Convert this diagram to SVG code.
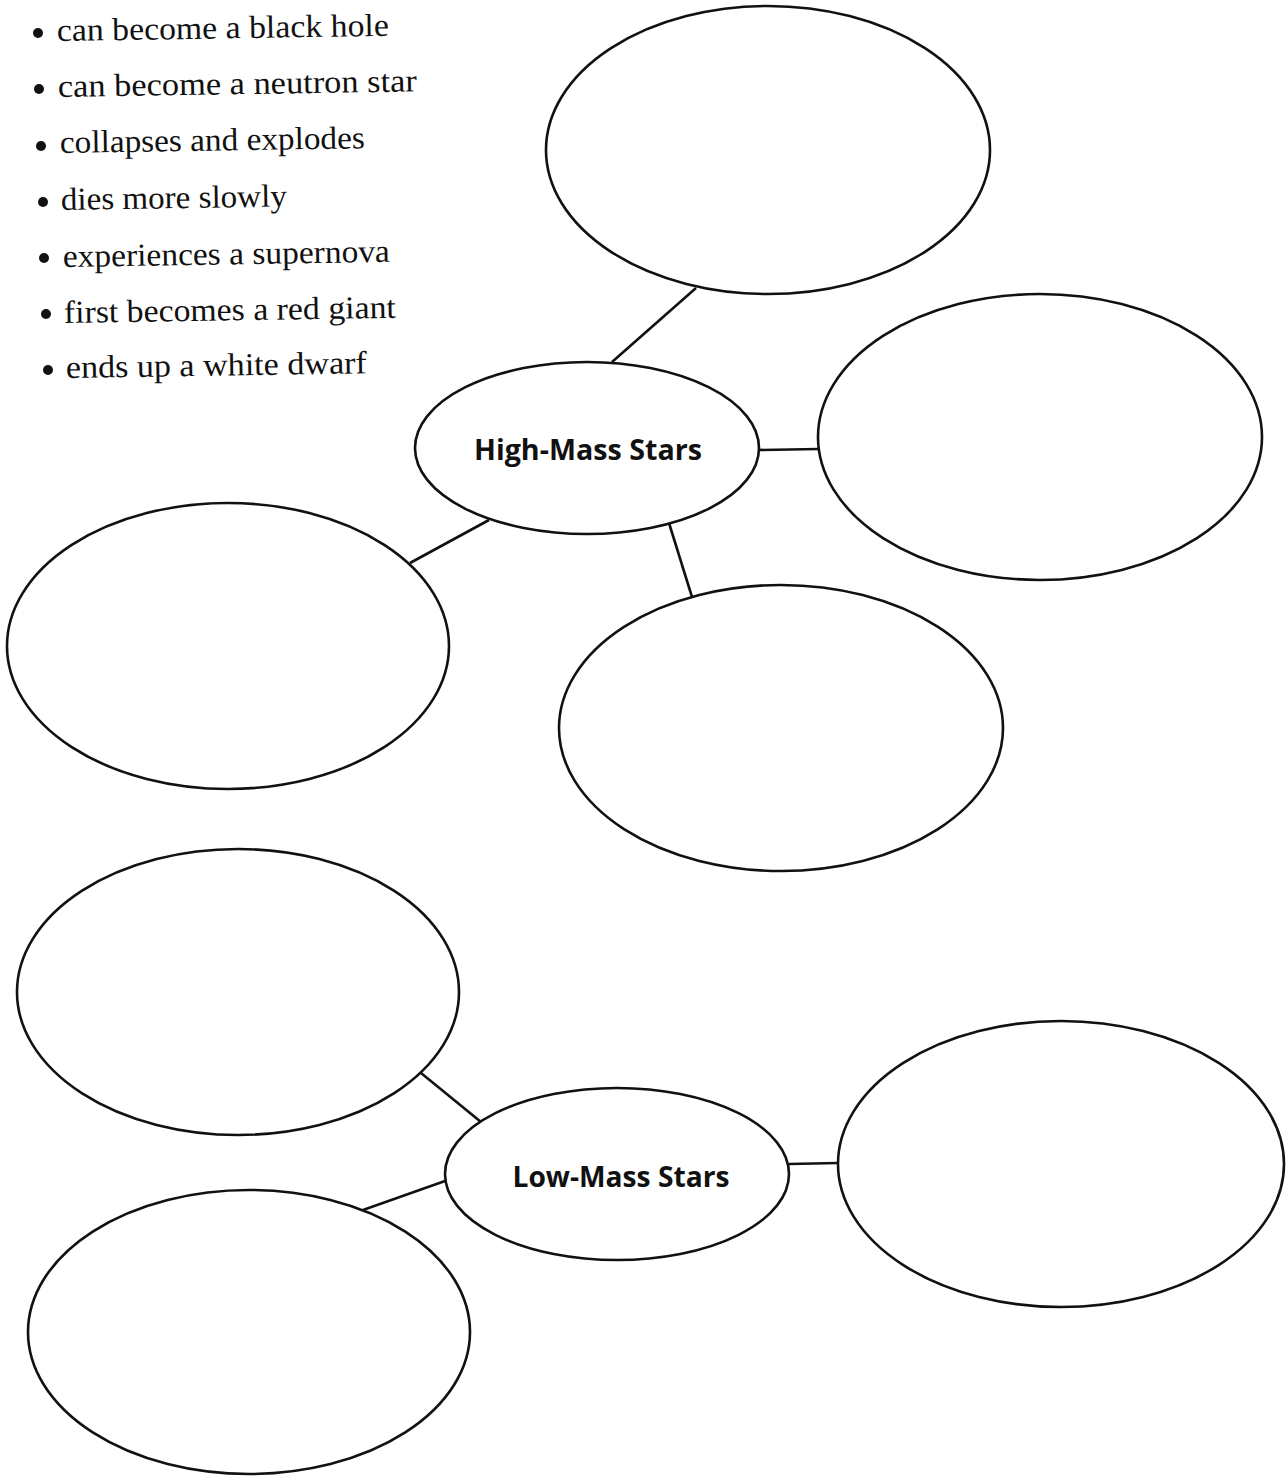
<svg xmlns="http://www.w3.org/2000/svg" width="1286" height="1476" viewBox="0 0 1286 1476">
<style>
.bub{fill:#fff;stroke:#111;stroke-width:2.6}
.con line{stroke:#111;stroke-width:2.6}
.item{font-family:"Liberation Serif","DejaVu Serif",serif;font-size:32px;fill:#111}
.lbl{font-family:"Open Sans","Noto Sans","Liberation Sans",sans-serif;font-weight:bold;font-size:29px;fill:#111;text-anchor:middle}
.dot{fill:#111}
</style>
<rect width="1286" height="1476" fill="#fff"/>
<g id="word-list">
<circle class="dot" cx="38" cy="33" r="5"/>
<text class="item" x="57" y="41" textLength="332" lengthAdjust="spacingAndGlyphs" transform="rotate(-0.9 57 41)">can become a black hole</text>
<circle class="dot" cx="39" cy="89" r="5"/>
<text class="item" x="58" y="97" textLength="359" lengthAdjust="spacingAndGlyphs" transform="rotate(-0.9 58 97)">can become a neutron star</text>
<circle class="dot" cx="41" cy="146" r="5"/>
<text class="item" x="60" y="153" textLength="305" lengthAdjust="spacingAndGlyphs" transform="rotate(-0.9 60 153)">collapses and explodes</text>
<circle class="dot" cx="43" cy="202" r="5"/>
<text class="item" x="61" y="210" textLength="226" lengthAdjust="spacingAndGlyphs" transform="rotate(-0.9 61 210)">dies more slowly</text>
<circle class="dot" cx="44" cy="258" r="5"/>
<text class="item" x="63" y="267" textLength="327" lengthAdjust="spacingAndGlyphs" transform="rotate(-0.9 63 267)">experiences a supernova</text>
<circle class="dot" cx="46" cy="314" r="5"/>
<text class="item" x="64" y="323" textLength="332" lengthAdjust="spacingAndGlyphs" transform="rotate(-0.9 64 323)">first becomes a red giant</text>
<circle class="dot" cx="48" cy="370" r="5"/>
<text class="item" x="66" y="378" textLength="301" lengthAdjust="spacingAndGlyphs" transform="rotate(-0.9 66 378)">ends up a white dwarf</text>
</g>
<g id="connectors" class="con">
<line x1="612" y1="362" x2="696" y2="288"/>
<line x1="759" y1="450" x2="818" y2="449"/>
<line x1="489" y1="520" x2="410" y2="563"/>
<line x1="669" y1="523" x2="692" y2="597"/>
<line x1="421" y1="1073" x2="481" y2="1122"/>
<line x1="789" y1="1164" x2="838" y2="1163"/>
<line x1="445" y1="1181" x2="363" y2="1210"/>
</g>
<g id="high-top"><ellipse class="bub" cx="768" cy="150" rx="222" ry="144"/></g>
<g id="high-right"><ellipse class="bub" cx="1040" cy="437" rx="222" ry="143"/></g>
<g id="high-left"><ellipse class="bub" cx="228" cy="646" rx="221" ry="143"/></g>
<g id="high-bottom"><ellipse class="bub" cx="781" cy="728" rx="222" ry="143"/></g>
<g id="high-mass">
<ellipse class="bub" cx="587" cy="448" rx="172" ry="86"/>
<text class="lbl" x="588" y="460" textLength="228" lengthAdjust="spacingAndGlyphs">High-Mass Stars</text>
</g>
<g id="low-top-left"><ellipse class="bub" cx="238" cy="992" rx="221" ry="143"/></g>
<g id="low-right"><ellipse class="bub" cx="1061" cy="1164" rx="223" ry="143"/></g>
<g id="low-bottom-left"><ellipse class="bub" cx="249" cy="1332" rx="221" ry="142"/></g>
<g id="low-mass">
<ellipse class="bub" cx="617" cy="1174" rx="172" ry="86"/>
<text class="lbl" x="621" y="1187" textLength="217" lengthAdjust="spacingAndGlyphs">Low-Mass Stars</text>
</g>
</svg>
